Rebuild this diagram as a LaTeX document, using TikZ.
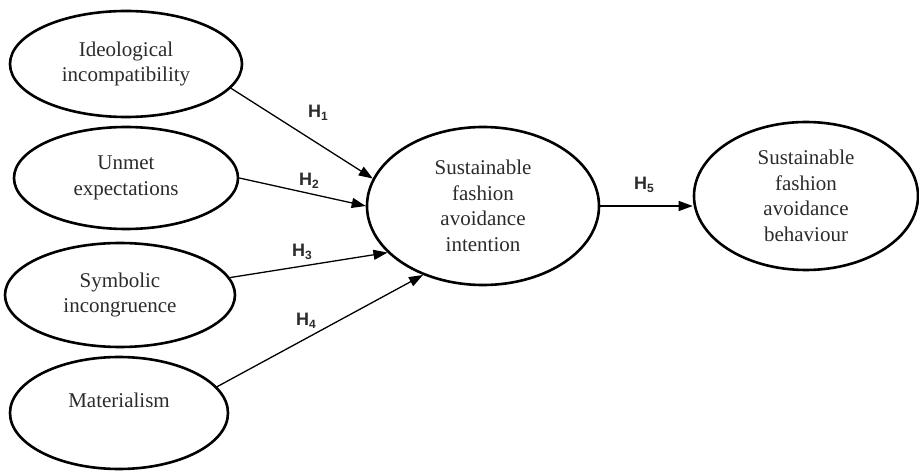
\documentclass[tikz,border=0pt]{standalone}
\usepackage{fontspec}
\setmainfont{Liberation Serif}
\newfontfamily\hfont{Liberation Sans}
\usetikzlibrary{shapes.geometric,arrows.meta}
\definecolor{txt}{HTML}{2B2B2B}
\tikzset{
  construct/.style={ellipse,draw=black,line width=2.6pt,inner sep=0pt,align=center,
    text=txt,font=\fontsize{21}{25.5}\selectfont},
  path/.style={line width=1.3pt,-{Triangle[length=14pt,width=10pt]}},
  hyp/.style={text=txt,font=\hfont\bfseries\fontsize{18}{18}\selectfont,inner sep=0pt}
}
\newcommand{\hlab}[1]{H\raisebox{-3.5pt}{\fontsize{12}{12}\selectfont #1}}
\begin{document}
\begin{tikzpicture}[x=1pt,y=-1pt]
\useasboundingbox (0,0) rectangle (919,473);
\node[construct,minimum width=232pt,minimum height=106pt] (ideo) at (126,64) {Ideological\\incompatibility};
\node[construct,minimum width=224pt,minimum height=102pt] (unmet) at (126,178) {Unmet\\expectations};
\node[construct,minimum width=230pt,minimum height=104pt] (symb) at (120,295) {Symbolic\\incongruence};
\node[construct,minimum width=218pt,minimum height=112pt] (mat) at (119,413) {Materialism\\\mbox{}};
\node[construct,minimum width=232pt,minimum height=158pt] (int) at (483,206) {Sustainable\\fashion\\avoidance\\intention};
\node[construct,minimum width=224pt,minimum height=148pt] (beh) at (806,196) {Sustainable\\fashion\\avoidance\\behaviour};
\draw[path] (ideo.-13) -- (int.166);
\draw[path] (unmet.0) -- (int.180);
\draw[path] (symb.9) -- (int.206);
\draw[path] (mat.15) -- (int.229);
\draw[path] (int.east) -- (int.east -| beh.west);
\node[hyp] (h1) at (318,113) {\hlab{1}};
\node[hyp] (h2) at (309,181) {\hlab{2}};
\node[hyp] (h3) at (302,252) {\hlab{3}};
\node[hyp] (h4) at (306,321) {\hlab{4}};
\node[hyp] (h5) at (644,185) {\hlab{5}};
\end{tikzpicture}
\end{document}
